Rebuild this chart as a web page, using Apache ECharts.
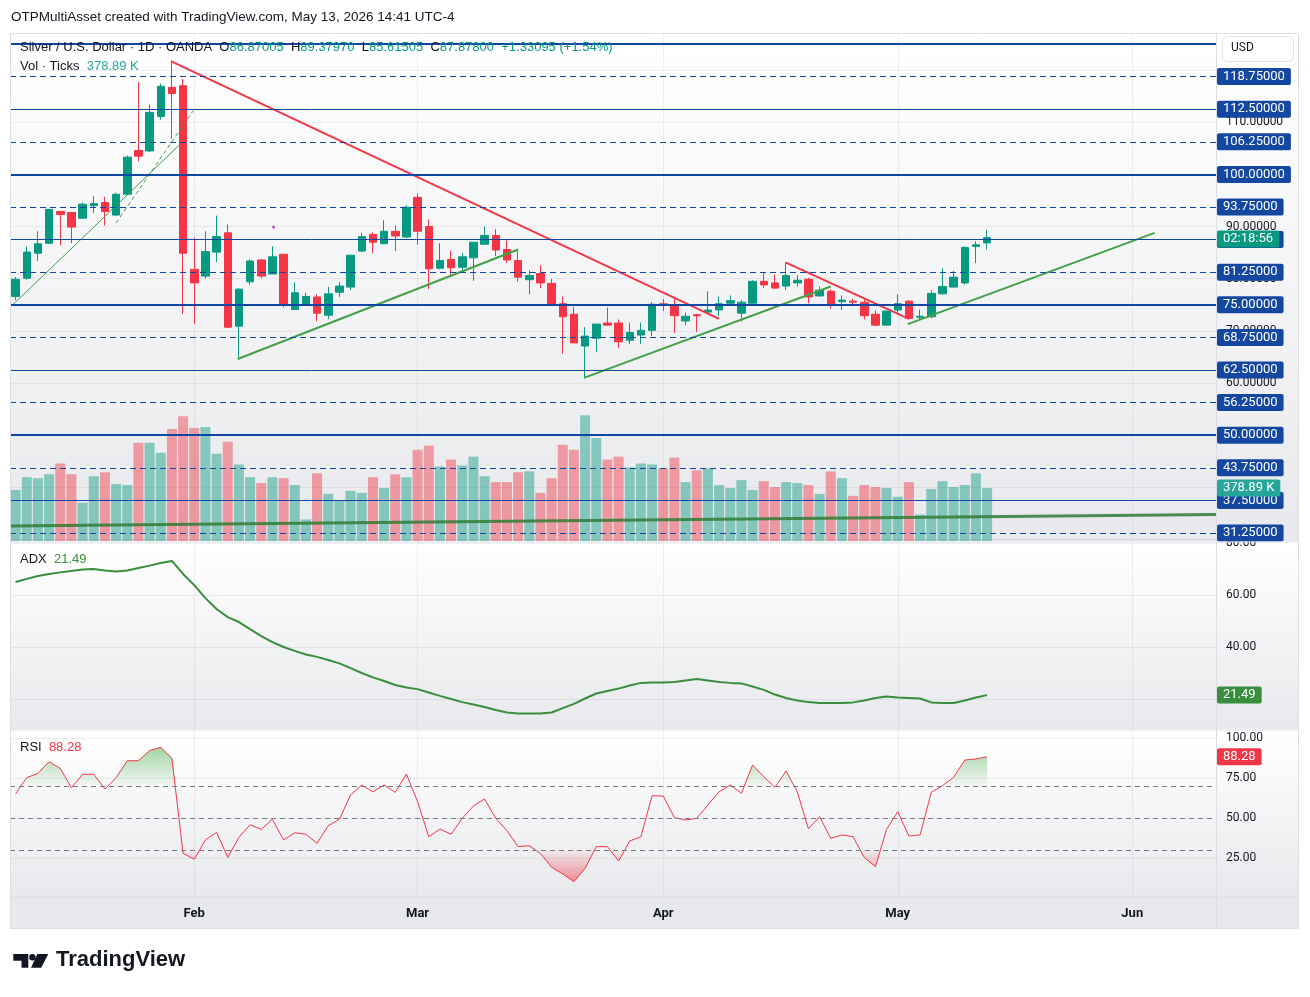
<!DOCTYPE html>
<html>
<head>
<meta charset="utf-8">
<title>Silver / U.S. Dollar · 1D · OANDA</title>
<script src="https://cdn.jsdelivr.net/npm/echarts@6/dist/echarts.min.js"></script>
<style>
  html, body { margin: 0; padding: 0; background: #ffffff; }
  #chart { width: 1310px; height: 997px; }
</style>
</head>
<body>
<div id="chart"></div>
<script>
// trading days on the chart (OANDA XAGUSD, 1D)
const dates = [
  '2026-01-09','2026-01-12','2026-01-13','2026-01-14','2026-01-15','2026-01-16','2026-01-19','2026-01-20',
  '2026-01-21','2026-01-22','2026-01-23','2026-01-26','2026-01-27','2026-01-28','2026-01-29','2026-01-30',
  '2026-02-02','2026-02-03','2026-02-04','2026-02-05','2026-02-06','2026-02-09','2026-02-10','2026-02-11',
  '2026-02-12','2026-02-13','2026-02-16','2026-02-17','2026-02-18','2026-02-19','2026-02-20','2026-02-23',
  '2026-02-24','2026-02-25','2026-02-26','2026-02-27','2026-03-02','2026-03-03','2026-03-04','2026-03-05',
  '2026-03-06','2026-03-09','2026-03-10','2026-03-11','2026-03-12','2026-03-13','2026-03-16','2026-03-17',
  '2026-03-18','2026-03-19','2026-03-20','2026-03-23','2026-03-24','2026-03-25','2026-03-26','2026-03-27',
  '2026-03-30','2026-03-31','2026-04-01','2026-04-02','2026-04-06','2026-04-07','2026-04-08','2026-04-09',
  '2026-04-10','2026-04-13','2026-04-14','2026-04-15','2026-04-16','2026-04-17','2026-04-20','2026-04-21',
  '2026-04-22','2026-04-23','2026-04-24','2026-04-27','2026-04-28','2026-04-29','2026-04-30','2026-05-01',
  '2026-05-04','2026-05-05','2026-05-06','2026-05-07','2026-05-08','2026-05-11','2026-05-12','2026-05-13'
];
// empty space to the right of the last bar
const futureDates = [
  '2026-05-14','2026-05-15','2026-05-18','2026-05-19','2026-05-20','2026-05-21','2026-05-22','2026-05-25',
  '2026-05-26','2026-05-27','2026-05-28','2026-05-29','2026-06-01','2026-06-02','2026-06-03','2026-06-04',
  '2026-06-05','2026-06-08','2026-06-09','2026-06-10'
];

// [open, close, low, high]
const candles = [
  [76.6,79.9,75.9,80.3],[80.1,85.1,79.8,86.2],[84.9,86.7,83.4,89.1],[86.8,93.3,86.6,93.4],
  [92.9,92.3,86.4,92.9],[92.7,89.9,86.8,92.7],[91.6,94.3,91.5,94.6],[94.0,94.4,92.6,95.8],
  [94.6,92.9,90.2,95.7],[92.2,96.2,92.0,96.5],[96.2,103.3,96.0,103.6],[104.6,103.5,102.5,117.7],
  [104.5,111.9,104.3,113.4],[111.1,116.9,110.5,117.4],[116.7,115.5,106.8,121.5],[117.0,84.9,73.2,118.3],
  [81.8,79.2,71.3,87.9],[80.5,85.2,80.0,89.1],[85.1,88.1,83.2,92.1],[88.8,70.7,70.6,90.4],
  [70.9,78.0,64.4,78.2],[79.4,83.4,78.8,83.7],[83.6,80.5,80.1,83.8],[80.9,84.2,80.9,86.2],
  [84.7,75.1,74.5,84.7],[74.1,77.3,74.0,79.3],[75.0,76.6,74.8,77.3],[76.5,73.4,71.8,77.0],
  [73.0,77.1,72.3,78.4],[77.4,78.6,76.5,79.4],[78.4,84.5,77.8,84.6],[85.3,88.1,85.1,88.8],
  [88.5,87.0,84.9,88.9],[86.7,89.1,86.7,91.2],[89.1,88.2,85.3,90.2],[88.0,93.7,87.8,94.1],
  [95.6,89.1,86.5,96.4],[90.0,81.9,78.0,91.4],[82.0,83.5,81.8,86.8],[83.7,82.1,80.6,85.4],
  [82.2,84.2,81.6,84.9],[84.0,87.0,79.6,87.0],[86.6,88.3,86.6,90.0],[88.3,85.5,84.3,89.5],
  [85.6,83.6,83.0,87.3],[83.5,80.3,79.4,85.6],[79.8,80.6,77.0,81.6],[81.0,79.2,78.2,82.6],
  [79.1,75.0,75.0,80.0],[75.2,72.7,65.6,76.6],[73.2,67.7,67.7,74.6],[67.1,69.0,61.0,70.7],
  [68.6,71.3,66.0,71.3],[71.5,71.1,71.0,74.5],[71.5,67.9,66.7,72.2],[68.2,69.7,67.5,71.6],
  [69.2,70.1,67.5,71.6],[70.1,75.1,69.0,75.5],[75.2,74.9,73.8,76.1],[74.9,72.9,69.6,76.1],
  [71.9,72.8,71.1,73.5],[73.1,72.9,69.8,73.3],[73.6,74.0,73.3,77.6],[74.0,75.2,72.9,76.6],
  [75.3,75.8,74.7,76.8],[73.4,75.5,71.8,75.9],[75.3,79.5,75.3,79.7],[79.5,78.8,78.2,81.1],
  [79.2,78.2,78.0,80.8],[78.6,80.6,77.8,83.2],[79.2,79.7,78.5,80.7],[79.9,76.5,75.3,80.2],
  [76.7,77.8,76.6,78.5],[77.6,75.2,74.3,78.0],[75.6,75.9,74.0,76.8],[75.7,75.5,74.7,76.2],
  [75.5,72.9,72.2,76.1],[73.2,71.1,70.9,73.9],[71.1,73.8,71.1,73.8],[74.0,75.2,73.1,77.0],
  [75.7,72.4,72.2,75.9],[72.6,72.8,72.2,74.1],[72.7,77.2,72.4,77.8],[77.1,78.5,77.0,82.0],
  [78.4,80.3,78.3,81.5],[79.2,86.0,78.9,86.2],[86.2,86.5,83.0,87.2],[86.87005,87.878,85.61505,89.3797]
];

// Vol · Ticks, in thousands
const volume = [
  365,456,449,477,554,477,274,463,491,407,
  400,702,702,631,800,891,807,814,624,709,
  547,456,414,456,449,400,154,484,337,288,
  358,344,456,379,477,456,652,681,533,582,
  540,603,463,421,421,491,498,344,449,688,
  652,898,737,582,603,526,554,547,519,596,
  421,505,519,400,379,435,365,428,386,421,
  414,400,337,498,449,323,400,386,379,316,
  421,189,372,428,386,400,484,378.89
];

const adx = [
  65.0,66.2,67.3,68.1,68.7,69.2,69.8,70.0,69.4,69.0,
  69.4,70.4,71.3,72.3,73.1,68.1,63.8,58.8,54.6,51.5,
  49.6,46.9,44.2,41.9,40.0,38.5,37.1,36.2,35.0,33.7,
  31.9,30.0,28.3,26.9,25.4,24.4,23.8,22.5,21.2,20.0,
  18.8,17.9,16.9,15.8,14.8,14.4,14.4,14.4,14.8,16.5,
  18.1,20.2,22.1,23.1,24.0,25.2,26.2,26.3,26.3,26.5,
  27.1,27.7,27.1,26.5,26.2,26.0,24.8,23.5,21.7,20.4,
  19.4,18.8,18.5,18.5,18.5,18.7,19.4,20.4,21.0,20.6,
  20.4,20.2,18.7,18.5,18.5,19.4,20.6,21.49
];

const rsi = [
  65.0,75.2,77.9,85.2,81.0,68.9,77.3,77.3,68.1,75.2,
  85.8,85.8,92.1,94.2,87.3,27.9,24.2,36.3,41.0,25.4,
  37.9,45.8,42.9,49.2,36.3,40.8,39.8,34.2,45.2,49.2,
  64.4,70.6,66.4,70.6,66.0,77.5,60.2,38.3,43.1,39.8,
  49.8,57.5,61.9,49.8,42.1,32.1,32.7,27.9,19.2,15.0,
  10.2,18.5,32.1,32.1,23.1,35.6,38.3,63.9,63.75,50.2,
  48.75,49.8,58.1,66.4,70.6,65.4,83.1,75.8,69.2,79.4,
  66.4,43.3,50.8,37.3,39.4,38.3,25.4,19.6,42.9,53.9,
  38.75,39.4,66.0,70.2,75.4,86.25,86.9,88.28
];

// horizontal levels drawn on the price pane
const levels = [125, 118.75, 112.5, 106.25, 100, 93.75, 87.5, 81.25, 75, 68.75, 62.5, 56.25, 50, 43.75, 37.5, 31.25];
// tick values on the axes
const priceGridTicks = [30, 40, 50, 60, 70, 80, 90, 100, 110, 120];
const priceLabelTicks = [60, 70, 80, 90, 110];
const adxGridTicks = [20, 40, 60, 80];
const adxLabelTicks = [40, 60, 80];
const rsiTicks = [25, 50, 75, 100];
const rsiBands = [70, 50, 30];
const countdownText = '02:18:56';

// drawings, as [bar index, price]
const redTrendLines = [
  [[13.9, 121.7], [63.0, 72.3]],
  [[69.0, 83.1], [80.0, 72.3]]
];
const greenTrendLines = [
  [[19.9, 64.6], [45.0, 85.6]],
  [[50.9, 61.0], [73.0, 78.5]],
  [[79.9, 71.3], [102.0, 88.8]]
];
const greenThinLine = [[-0.35, 74.8], [14.6, 105.5]];
const greenDashedLine = [[9.0, 90.7], [15.9, 112.2]];
const longGreenLine = [[-0.4, 32.6], [107.5, 34.8]];
const purpleDot = [[23.1, 89.9]];

// ---------------------------------------------------------------
const UP = '#089981', DOWN = '#f23645';
const TEXT = '#131722';
const GRIDLINE = 'rgba(42,46,57,0.07)';
const LEVEL = '#0d47a1';
const NONE = 'rgba(0,0,0,0)';
const FONT = 'Roboto, "Liberation Sans", sans-serif';
const UI = '"Liberation Sans", sans-serif';

const allDates = dates.concat(futureDates);
const monthNames = ['Jan','Feb','Mar','Apr','May','Jun','Jul','Aug','Sep','Oct','Nov','Dec'];
const monthStarts = allDates.map((d, i) => i)
  .filter(i => i > 0 && allDates[i].slice(5, 7) !== allDates[i - 1].slice(5, 7));
const xMin = -0.5, xMax = allDates.length - 0.5;
const last = candles.length - 1;

// fill points of the RSI beyond a band, with the crossing points added
function beyond(vals, level, above) {
  const out = [];
  vals.forEach((v, i) => {
    if (i > 0) {
      const p = vals[i - 1];
      if ((p - level) * (v - level) < 0) out.push([i - 1 + (level - p) / (v - p), level]);
    }
    out.push([i, above ? Math.max(v, level) : Math.min(v, level)]);
  });
  return out;
}

function timeAxis(gridIndex, labels) {
  return {
    type: 'value', gridIndex: gridIndex, min: xMin, max: xMax,
    axisLine: { show: false },
    axisTick: { show: false, customValues: monthStarts },
    splitLine: { show: true, lineStyle: { color: GRIDLINE } },
    axisLabel: labels ? {
      show: true, customValues: monthStarts, margin: 10,
      color: TEXT, fontSize: 13, fontWeight: 'bold', fontFamily: FONT,
      formatter: v => monthNames[+allDates[Math.round(v)].slice(5, 7) - 1]
    } : { show: false }
  };
}

function valueAxis(gridIndex, min, max, gridTicks, labelTicks, digits) {
  return {
    type: 'value', gridIndex: gridIndex, position: 'right', min: min, max: max,
    axisLine: { show: false },
    axisTick: { show: false, customValues: gridTicks },
    splitLine: { show: true, lineStyle: { color: GRIDLINE } },
    axisLabel: {
      customValues: labelTicks, margin: 10, color: TEXT, fontSize: 12, fontFamily: FONT,
      formatter: v => v.toFixed(digits)
    }
  };
}

function tag(bg, text) {
  return {
    show: true, position: 'end', distance: 1, formatter: text,
    color: '#ffffff', backgroundColor: bg, fontSize: 13, fontFamily: FONT,
    padding: [2, 6, 2, 6], lineHeight: 13, borderRadius: 2
  };
}

// an invisible line that only carries a value tag on the axis
function valueTag(value, bg, text) {
  return { yAxis: value, lineStyle: { color: NONE, width: 0 }, label: tag(bg, text) };
}

function drawing(points, color, width, type) {
  return {
    type: 'line', xAxisIndex: 1, yAxisIndex: 0, z: 4, silent: true,
    data: points, symbol: 'none',
    lineStyle: { color: color, width: width, type: type || 'solid' }
  };
}

const chart = echarts.init(document.getElementById('chart'), null, { renderer: 'canvas' });

const paneBg = (y, h) => ({
  type: 'rect', z: -100, silent: true,
  shape: { x: 11, y: y, width: 1287, height: h },
  style: { fill: new echarts.graphic.LinearGradient(0, 0, 0, 1, [
    { offset: 0, color: '#ffffff' }, { offset: 1, color: '#e8e9ec' }]) }
});
const rule = (x1, y1, x2, y2) => ({
  type: 'line', z: 50, silent: true,
  shape: { x1: x1, y1: y1, x2: x2, y2: y2 },
  style: { stroke: '#dcdee4', lineWidth: 1 }
});
const legend = (top, name, value, color) => ({
  type: 'text', z: 60, left: 20, top: top, silent: true,
  style: { text: '{d|' + name + '  }{v|' + value + '}',
    rich: { d: { fill: TEXT, font: '13px ' + UI }, v: { fill: color, font: '13px ' + UI } } }
});

const series = [];

series.push({
  name: 'Volume', type: 'bar', xAxisIndex: 0, yAxisIndex: 1, z: 1, silent: true,
  barWidth: 10,
  data: volume.map((v, i) => ({
    value: v,
    itemStyle: { color: candles[i][1] >= candles[i][0] ? 'rgba(8,153,129,0.45)' : 'rgba(242,54,69,0.45)' }
  }))
});

series.push({
  name: 'XAGUSD', type: 'candlestick', xAxisIndex: 0, yAxisIndex: 0, z: 3, silent: true,
  barWidth: 8,
  data: candles,
  itemStyle: { color: UP, color0: DOWN, borderColor: UP, borderColor0: DOWN, borderWidth: 1 }
});

series.push(drawing(longGreenLine, 'rgba(46,125,50,0.85)', 3));
series.push(drawing(greenThinLine, '#43a047', 1));
series.push(drawing(greenDashedLine, '#43a047', 1, [4, 3]));
greenTrendLines.forEach(p => series.push(drawing(p, '#43a047', 2)));
redTrendLines.forEach(p => series.push(drawing(p, '#f23645', 2)));

series.push({
  type: 'scatter', xAxisIndex: 1, yAxisIndex: 0, z: 4, silent: true,
  data: purpleDot, symbolSize: 3, itemStyle: { color: '#9c27b0' }
});

// level lines with their axis tags
series.push({
  type: 'line', xAxisIndex: 1, yAxisIndex: 0, z: 5, data: [], silent: true,
  markLine: {
    silent: true, symbol: ['none', 'none'], animation: false,
    data: levels.map(v => ({
      yAxis: v,
      lineStyle: {
        color: LEVEL,
        width: v % 25 === 0 ? 2 : 1,
        type: v % 12.5 === 0 ? 'solid' : [6, 4]
      },
      label: Object.assign(tag('#14479f', v.toFixed(5)), { show: v < 125 })
    })).concat([valueTag(87.62, UP, countdownText)])
  }
});

// volume value tag
series.push({
  type: 'line', xAxisIndex: 1, yAxisIndex: 1, z: 6, data: [], silent: true,
  markLine: {
    silent: true, symbol: ['none', 'none'], animation: false,
    data: [valueTag(volume[last], '#26a69a', volume[last].toFixed(2) + ' K')]
  }
});

series.push({
  name: 'ADX', type: 'line', xAxisIndex: 2, yAxisIndex: 2, z: 3, silent: true,
  data: adx.map((v, i) => [i, v]), symbol: 'none',
  lineStyle: { color: '#388e3c', width: 2 },
  markLine: {
    silent: true, symbol: ['none', 'none'], animation: false,
    data: [valueTag(adx[last], '#388e3c', adx[last].toFixed(2))]
  }
});

series.push({
  type: 'line', xAxisIndex: 3, yAxisIndex: 3, z: 2, silent: true,
  data: beyond(rsi, 70, true), symbol: 'none', lineStyle: { width: 0 },
  areaStyle: { origin: 70, color: new echarts.graphic.LinearGradient(0, 0, 0, 1, [
    { offset: 0, color: 'rgba(76,175,80,0.75)' }, { offset: 1, color: 'rgba(76,175,80,0.03)' }]) }
});
series.push({
  type: 'line', xAxisIndex: 3, yAxisIndex: 3, z: 2, silent: true,
  data: beyond(rsi, 30, false), symbol: 'none', lineStyle: { width: 0 },
  areaStyle: { origin: 30, color: new echarts.graphic.LinearGradient(0, 0, 0, 1, [
    { offset: 0, color: 'rgba(242,54,69,0.03)' }, { offset: 1, color: 'rgba(242,54,69,0.75)' }]) }
});
series.push({
  name: 'RSI', type: 'line', xAxisIndex: 3, yAxisIndex: 3, z: 3, silent: true,
  data: rsi.map((v, i) => [i, v]), symbol: 'none',
  lineStyle: { color: '#f23645', width: 1 },
  markLine: {
    silent: true, symbol: ['none', 'none'], animation: false,
    data: rsiBands.map(v => ({
      yAxis: v, lineStyle: { color: '#787b86', width: 1, type: [5, 4] }, label: { show: false }
    })).concat([valueTag(rsi[last], '#f23645', rsi[last].toFixed(2))])
  }
});

const option = {
  animation: false,
  backgroundColor: 'transparent',
  grid: [
    { left: 10, top: 34, width: 1206, height: 507, outerBoundsMode: 'none' },
    { left: 10, top: 543, width: 1206, height: 186, outerBoundsMode: 'none' },
    { left: 10, top: 731, width: 1206, height: 166, outerBoundsMode: 'none' }
  ],
  xAxis: [
    { type: 'category', gridIndex: 0, data: allDates, boundaryGap: true, show: false },
    timeAxis(0, false),
    timeAxis(1, false),
    timeAxis(2, true)
  ],
  yAxis: [
    valueAxis(0, 29.716, 126.917, priceGridTicks, priceLabelTicks, 5),
    { type: 'value', gridIndex: 0, min: 0, max: 3624, show: false, splitLine: { show: false } },
    valueAxis(1, 8.46, 80, adxGridTicks, adxLabelTicks, 2),
    valueAxis(2, 0.625, 104.375, rsiTicks, rsiTicks, 2)
  ],
  series: series,
  graphic: [
    paneBg(34, 507), paneBg(543, 186), paneBg(731, 166),
    { type: 'rect', z: -100, silent: true, shape: { x: 11, y: 897, width: 1287, height: 31 },
      style: { fill: '#e8e9ec' } },
    rule(11, 542, 1298, 542), rule(11, 730, 1298, 730), rule(11, 897, 1298, 897),
    rule(1216.5, 34, 1216.5, 928),
    { type: 'rect', z: 50, silent: true, shape: { x: 10.5, y: 33.5, width: 1288, height: 895 },
      style: { fill: 'none', stroke: '#dcdee4', lineWidth: 1 } },
    { type: 'text', z: 60, left: 11, top: 10, silent: true,
      style: { text: 'OTPMultiAsset created with TradingView.com, May 13, 2026 14:41 UTC-4',
        fill: TEXT, font: '13.5px ' + UI } },
    { type: 'text', z: 60, left: 20, top: 41, silent: true,
      style: {
        text: '{d|Silver / U.S. Dollar · 1D · OANDA  O}{v|86.87005}{d|  H}{v|89.37970}{d|  L}{v|85.61505}{d|  C}{v|87.87800}{v|  +1.33095 (+1.54%)}',
        rich: { d: { fill: TEXT, font: '13px ' + UI }, v: { fill: UP, font: '13px ' + UI } }
      } },
    legend(60, 'Vol · Ticks', '378.89 K', '#26a69a'),
    legend(553, 'ADX', '21.49', '#388e3c'),
    legend(741, 'RSI', '88.28', '#f23645'),
    { type: 'rect', z: 60, silent: true, shape: { x: 1222.5, y: 36.5, width: 71, height: 25, r: 5 },
      style: { fill: '#ffffff', stroke: '#e0e3eb', lineWidth: 1 } },
    { type: 'text', z: 61, left: 1231, top: 42, silent: true,
      style: { text: 'USD', fill: TEXT, font: '12px Roboto, sans-serif' } },
    // TradingView logo
    { type: 'polygon', z: 60, silent: true,
      shape: { points: [[13.3, 954], [28.3, 954], [28.3, 967.7], [21.5, 967.7], [21.5, 960.8], [13.3, 960.8]] },
      style: { fill: TEXT } },
    { type: 'circle', z: 60, silent: true, shape: { cx: 32.4, cy: 957.3, r: 3.2 }, style: { fill: TEXT } },
    { type: 'polygon', z: 60, silent: true,
      shape: { points: [[37.3, 954], [48.3, 954], [41.2, 967.7], [31.0, 967.7]] },
      style: { fill: TEXT } },
    { type: 'text', z: 60, left: 56, top: 949, silent: true,
      style: { text: 'TradingView', fill: TEXT, font: 'bold 22px ' + UI } }
  ]
};

chart.setOption(option);
</script>
</body>
</html>
